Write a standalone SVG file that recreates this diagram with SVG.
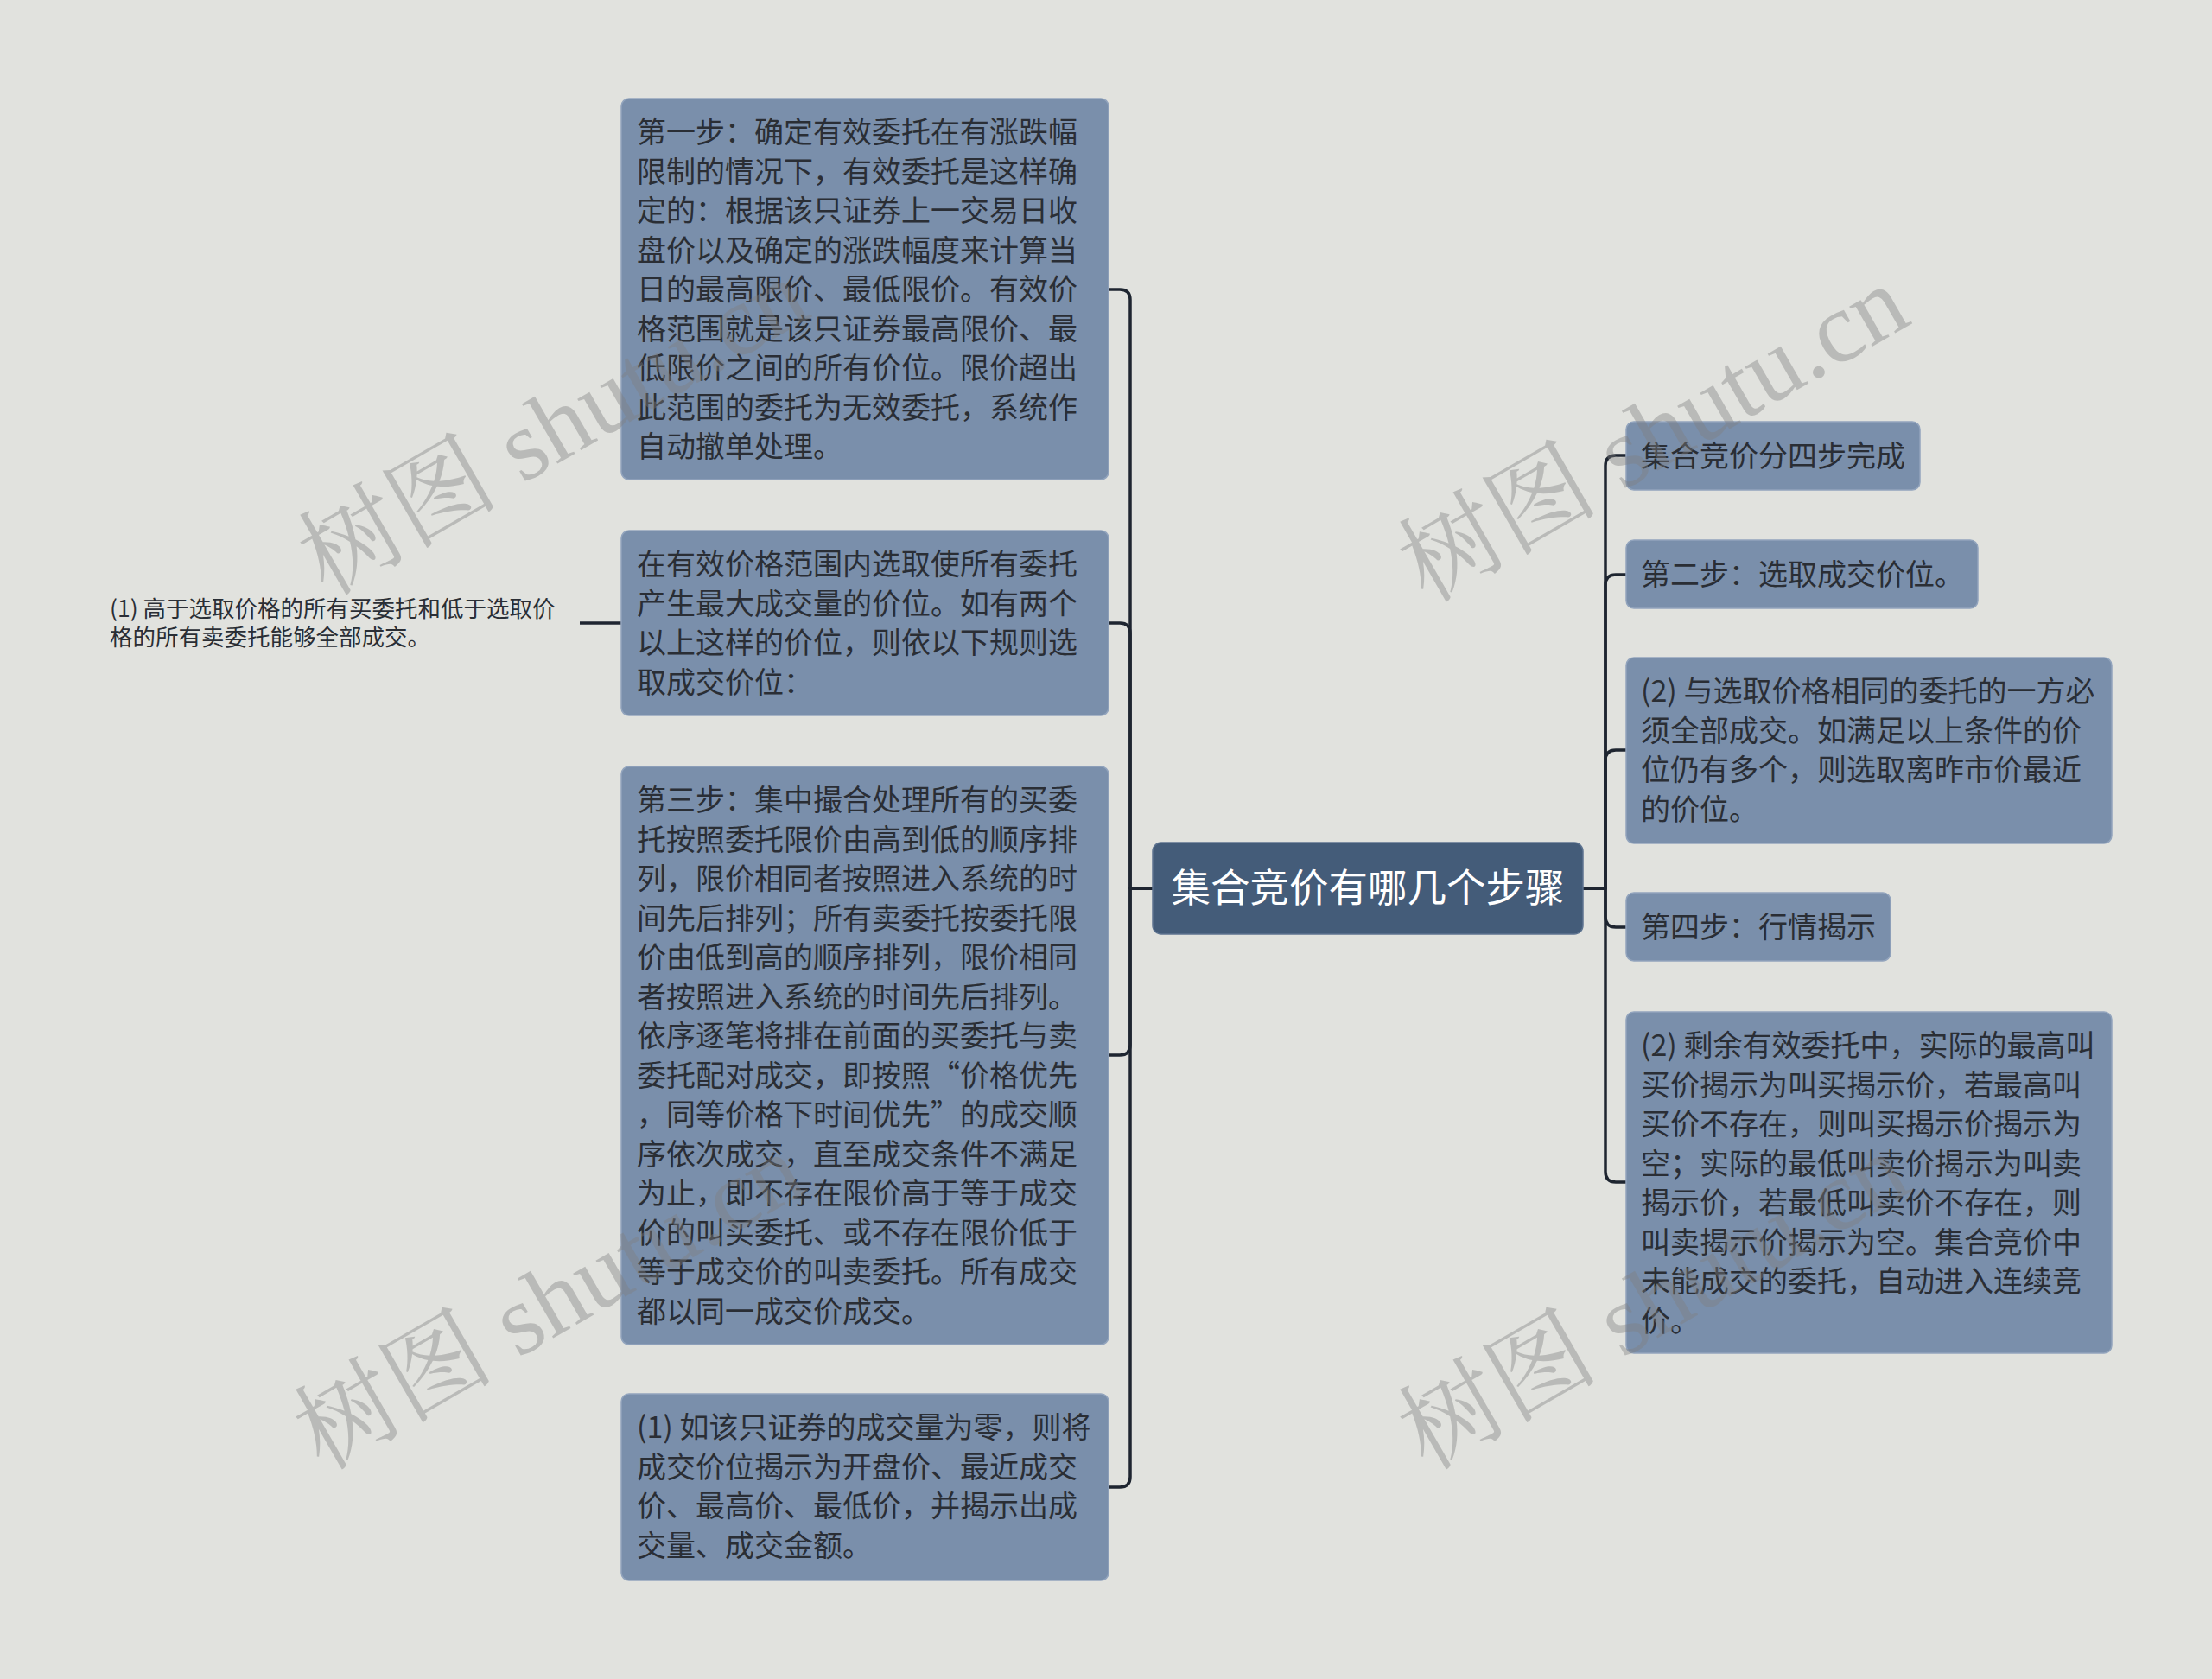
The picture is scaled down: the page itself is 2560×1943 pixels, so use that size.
<svg xmlns="http://www.w3.org/2000/svg" width="2560" height="1943" viewBox="0 0 2560 1943">
<style>
.bg{fill:#e1e2de}
.node{fill:#7a8fab;stroke:#92a4bd;stroke-width:1.5}
.root{fill:#445c79;stroke:#5d7390;stroke-width:1.5}
.t{font-family:"Noto Sans CJK SC","Noto Sans",sans-serif;font-size:34px;fill:#2a2e35}
.rt{font-family:"Noto Sans CJK SC","Noto Sans",sans-serif;font-size:45.5px;fill:#ffffff}
.leaf{font-family:"Noto Sans CJK SC","Noto Sans",sans-serif;font-size:26.5px;fill:#2a2e35}
.c{fill:none;stroke:#1e2530;stroke-width:3.5;stroke-linejoin:round}
.wm{font-family:"Liberation Serif","Noto Serif CJK SC","Noto Sans CJK SC",serif;font-size:116px;fill:#808080;opacity:0.4}
</style>
<rect class="bg" x="0" y="0" width="2560" height="1943"/>
<g id="connectors">
<path class="c" d="M1334 1028 H1308 V347 Q1308 335 1296 335 H1283"/>
<path class="c" d="M1334 1028 H1308 V733 Q1308 721 1296 721 H1283"/>
<path class="c" d="M1334 1028 H1308 V1209 Q1308 1221 1296 1221 H1283"/>
<path class="c" d="M1334 1028 H1308 V1709 Q1308 1721 1296 1721 H1283"/>
<path class="c" d="M720 721 H671"/>
<path class="c" d="M1832 1028 H1858 V539 Q1858 527 1870 527 H1882"/>
<path class="c" d="M1832 1028 H1858 V677 Q1858 665 1870 665 H1882"/>
<path class="c" d="M1832 1028 H1858 V880 Q1858 868 1870 868 H1882"/>
<path class="c" d="M1832 1028 H1858 V1061 Q1858 1073 1870 1073 H1882"/>
<path class="c" d="M1832 1028 H1858 V1356 Q1858 1368 1870 1368 H1882"/>
</g>
<g id="root">
<rect class="root" x="1334" y="975" width="498" height="106" rx="10"/>
<text class="rt" x="1583" y="1044" text-anchor="middle">集合竞价有哪几个步骤</text>
</g>
<g id="n1">
<rect class="node" x="719" y="114" width="564" height="441" rx="9"/>
<text class="t" x="737"><tspan x="737" y="165">第一步：确定有效委托在有涨跌幅</tspan><tspan x="737" y="210.5">限制的情况下，有效委托是这样确</tspan><tspan x="737" y="256">定的：根据该只证券上一交易日收</tspan><tspan x="737" y="301.5">盘价以及确定的涨跌幅度来计算当</tspan><tspan x="737" y="347">日的最高限价、最低限价。有效价</tspan><tspan x="737" y="392.5">格范围就是该只证券最高限价、最</tspan><tspan x="737" y="438">低限价之间的所有价位。限价超出</tspan><tspan x="737" y="483.5">此范围的委托为无效委托，系统作</tspan><tspan x="737" y="529">自动撤单处理。</tspan></text>
</g>
<g id="n2">
<rect class="node" x="719" y="614" width="564" height="214" rx="9"/>
<text class="t"><tspan x="737" y="665">在有效价格范围内选取使所有委托</tspan><tspan x="737" y="710.5">产生最大成交量的价位。如有两个</tspan><tspan x="737" y="756">以上这样的价位，则依以下规则选</tspan><tspan x="737" y="801.5">取成交价位：</tspan></text>
</g>
<g id="n2a">
<text class="leaf"><tspan x="127" y="714">(1) 高于选取价格的所有买委托和低于选取价</tspan><tspan x="127" y="747">格的所有卖委托能够全部成交。</tspan></text>
</g>
<g id="n3">
<rect class="node" x="719" y="887" width="564" height="669" rx="9"/>
<text class="t"><tspan x="737" y="938">第三步：集中撮合处理所有的买委</tspan><tspan x="737" y="983.5">托按照委托限价由高到低的顺序排</tspan><tspan x="737" y="1029">列，限价相同者按照进入系统的时</tspan><tspan x="737" y="1074.5">间先后排列；所有卖委托按委托限</tspan><tspan x="737" y="1120">价由低到高的顺序排列，限价相同</tspan><tspan x="737" y="1165.5">者按照进入系统的时间先后排列。</tspan><tspan x="737" y="1211">依序逐笔将排在前面的买委托与卖</tspan><tspan x="737" y="1256.5">委托配对成交，即按照“价格优先</tspan><tspan x="737" y="1302">，同等价格下时间优先”的成交顺</tspan><tspan x="737" y="1347.5">序依次成交，直至成交条件不满足</tspan><tspan x="737" y="1393">为止，即不存在限价高于等于成交</tspan><tspan x="737" y="1438.5">价的叫买委托、或不存在限价低于</tspan><tspan x="737" y="1484">等于成交价的叫卖委托。所有成交</tspan><tspan x="737" y="1529.5">都以同一成交价成交。</tspan></text>
</g>
<g id="n4">
<rect class="node" x="719" y="1613" width="564" height="216" rx="9"/>
<text class="t"><tspan x="737" y="1664">(1) 如该只证券的成交量为零，则将</tspan><tspan x="737" y="1709.5">成交价位揭示为开盘价、最近成交</tspan><tspan x="737" y="1755">价、最高价、最低价，并揭示出成</tspan><tspan x="737" y="1800.5">交量、成交金额。</tspan></text>
</g>
<g id="r1">
<rect class="node" x="1882" y="488" width="340" height="79" rx="9"/>
<text class="t" x="1899" y="539.5">集合竞价分四步完成</text>
</g>
<g id="r2">
<rect class="node" x="1882" y="625" width="407" height="79" rx="9"/>
<text class="t" x="1899" y="676.5">第二步：选取成交价位。</text>
</g>
<g id="r3">
<rect class="node" x="1882" y="761" width="562" height="215" rx="9"/>
<text class="t"><tspan x="1899" y="812">(2) 与选取价格相同的委托的一方必</tspan><tspan x="1899" y="857.5">须全部成交。如满足以上条件的价</tspan><tspan x="1899" y="903">位仍有多个，则选取离昨市价最近</tspan><tspan x="1899" y="948.5">的价位。</tspan></text>
</g>
<g id="r4">
<rect class="node" x="1882" y="1033" width="306" height="79" rx="9"/>
<text class="t" x="1899" y="1084.5">第四步：行情揭示</text>
</g>
<g id="r5">
<rect class="node" x="1882" y="1171" width="562" height="395" rx="9"/>
<text class="t"><tspan x="1899" y="1222">(2) 剩余有效委托中，实际的最高叫</tspan><tspan x="1899" y="1267.5">买价揭示为叫买揭示价，若最高叫</tspan><tspan x="1899" y="1313">买价不存在，则叫买揭示价揭示为</tspan><tspan x="1899" y="1358.5">空；实际的最低叫卖价揭示为叫卖</tspan><tspan x="1899" y="1404">揭示价，若最低叫卖价不存在，则</tspan><tspan x="1899" y="1449.5">叫卖揭示价揭示为空。集合竞价中</tspan><tspan x="1899" y="1495">未能成交的委托，自动进入连续竞</tspan><tspan x="1899" y="1540.5">价。</tspan></text>
</g>
<g id="watermarks">
<text class="wm" x="0" y="0" text-anchor="middle" transform="translate(660 528) rotate(-30)">树图 shutu.cn</text>
<text class="wm" x="0" y="0" text-anchor="middle" transform="translate(1933 536) rotate(-30)">树图 shutu.cn</text>
<text class="wm" x="0" y="0" text-anchor="middle" transform="translate(655 1540) rotate(-30)">树图 shutu.cn</text>
<text class="wm" x="0" y="0" text-anchor="middle" transform="translate(1933 1540) rotate(-30)">树图 shutu.cn</text>
</g>
</svg>
